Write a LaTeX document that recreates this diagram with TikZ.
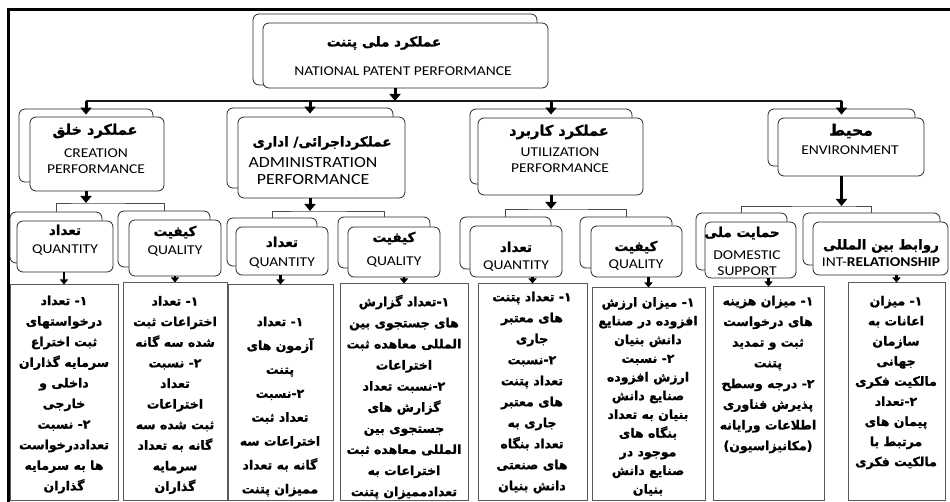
\documentclass[tikz,border=0pt]{standalone}
\usepackage{fontspec}
\setmainfont{Carlito}[FakeStretch=1.15]
\newfontfamily\fa[Script=Arabic, FakeBold=1.2]{DejaVu Sans}
\TeXXeTstate=1
\usetikzlibrary{arrows.meta,fit}
\newcommand\R[1]{\beginR #1\endR}
\newcommand\mydash{\kern0pt-\kern0pt}
\begin{document}
\begin{tikzpicture}[x=1pt,y=-1pt,
  bk/.style={draw=black!85, line width=0.8pt, rounded corners=6pt, fill=white, inner sep=0pt},
  leaf/.style={draw=black!65, line width=1pt, inner sep=0pt},
  faT/.style={font=\fa\bfseries\fontsize{13.5}{15}\selectfont, inner sep=0pt},
  enT/.style={font=\fontsize{13.5}{16}\selectfont, inner sep=0pt, align=center},
  body/.style={align=center, inner sep=0pt},
  trunk/.style={line width=1.4pt, draw=black!90},
  brk/.style={line width=0.8pt, draw=black!70},
  bigarr/.style={line width=3pt, -{Triangle[width=11pt,length=7pt]}},
  smarr/.style={line width=2.4pt, -{Triangle[width=8pt,length=5pt]}}]
\useasboundingbox (0,0) rectangle (950,502);
% frame
\draw[line width=3pt] (950,10) -- (8,10) -- (8,503);
% top
\node[bk, fit={(253,14)(537,85)}] (topB) {};
\node[bk, fit={(263,23)(548,88)}] (topF) {};
\node[faT] (topP) at (384,43) {\R{عملکرد ملی پتنت}};
\node[enT] (topE) at (403,71) {NATIONAL PATENT PERFORMANCE};
% level 2
\node[bk, fit={(19,109)(153,182)}] (creB) {};
\node[bk, fit={(30,117)(164,191)}] (creF) {};
\node[faT, font=\fa\bfseries\fontsize{14.5}{16}\selectfont] (creP) at (95,131) {\R{عملکرد خلق}};
\node[enT] (creE) at (96,161) {CREATION\\PERFORMANCE};
\node[bk, fit={(227,108)(393,188)}] (admB) {};
\node[bk, fit={(238,117)(405,198)}] (admF) {};
\node[faT] (admP) at (322,143) {\R{عملکرداجرائی/ اداری}};
\node[enT, font=\fontsize{15.5}{17}\selectfont] (admE) at (313,171.5) {ADMINISTRATION\\PERFORMANCE};
\node[bk, fit={(470,109)(632,184)}] (utiB) {};
\node[bk, fit={(478,118)(643,195)}] (utiF) {};
\node[faT, font=\fa\bfseries\fontsize{14.5}{16}\selectfont] (utiP) at (559,132) {\R{عملکرد کاربرد}};
\node[enT] (utiE) at (560,160) {UTILIZATION\\PERFORMANCE};
\node[bk, fit={(768,109)(915,166)}] (envB) {};
\node[bk, fit={(778,118)(924,176)}] (envF) {};
\node[faT, font=\fa\bfseries\fontsize{15.5}{17}\selectfont] (envP) at (851,131) {\R{محیط}};
\node[enT] (envE) at (850,150) {ENVIRONMENT};
% level 3
\node[bk, fit={(10,212)(102,263)}] (cqnB) {};
\node[bk, fit={(17,221)(113,272)}] (cqnF) {};
\node[faT] (cqnP) at (65,230) {\R{تعداد}};
\node[enT] (cqnE) at (65,250) {QUANTITY};
\node[bk, fit={(118,211)(210,267)}] (cqlB) {};
\node[bk, fit={(129,220)(221,276)}] (cqlF) {};
\node[faT] (cqlP) at (175,232) {\R{کیفیت}};
\node[enT] (cqlE) at (175,251) {QUALITY};
\node[bk, fit={(227,218)(317,266)}] (aqnB) {};
\node[bk, fit={(236,227)(328,275)}] (aqnF) {};
\node[faT] (aqnP) at (282,242) {\R{تعداد}};
\node[enT] (aqnE) at (282,263) {QUANTITY};
\node[bk, fit={(338,217)(430,268)}] (aqlB) {};
\node[bk, fit={(348,227)(440,277)}] (aqlF) {};
\node[faT] (aqlP) at (394,238) {\R{کیفیت}};
\node[enT] (aqlE) at (394,262) {QUALITY};
\node[bk, fit={(460,217)(551,269)}] (uqnB) {};
\node[bk, fit={(470,226)(562,277)}] (uqnF) {};
\node[faT] (uqnP) at (516,247) {\R{تعداد}};
\node[enT] (uqnE) at (516,266) {QUANTITY};
\node[bk, fit={(580,217)(672,268)}] (uqlB) {};
\node[bk, fit={(591,226)(682,277)}] (uqlF) {};
\node[faT] (uqlP) at (636,247) {\R{کیفیت}};
\node[enT] (uqlE) at (636,265) {QUALITY};
\node[bk, fit={(696,213)(787,270)}] (domB) {};
\node[bk, fit={(705,222)(796,278)}] (domF) {};
\node[faT] (domP) at (742,233) {\R{حمایت ملی}};
\node[enT] (domE) at (747,263) {DOMESTIC\\SUPPORT};
\node[bk, fit={(803,213)(940,265)}] (intB) {};
\node[bk, fit={(813,222)(948,275)}] (intF) {};
\node[faT] (intP) at (881,246) {\R{روابط بین المللی}};
\node[enT] (intE) at (881,262) {INT-\textbf{RELATIONSHIP}};
% level 4
\node[leaf, fit={(10,285)(118,500)}] (b1) {};
\node[leaf, fit={(123,283)(227,500)}] (b2) {};
\node[leaf, fit={(228,285)(333,500)}] (b3) {};
\node[leaf, fit={(340,284)(468,500)}] (b4) {};
\node[leaf, fit={(478,284)(587,500)}] (b5) {};
\node[leaf, fit={(592,288)(705,500)}] (b6) {};
\node[leaf, fit={(713,287)(824,500)}] (b7) {};
\node[leaf, fit={(848,283)(945,500)}] (b8) {};
\node[body, font=\fa\bfseries\fontsize{12.5}{20.6}\selectfont] (t1) at (64,394.5) {\R{۱\mydash{} تعداد}\\\R{درخواستهای}\\\R{ثبت اختراع}\\\R{سرمایه گذاران}\\\R{داخلی و}\\\R{خارجی}\\\R{۲\mydash{} نسبت}\\\R{تعداددرخواست}\\\R{ها به سرمایه}\\\R{گذاران}};
\node[body, font=\fa\bfseries\fontsize{12.5}{20.6}\selectfont] (t2) at (175,395) {\R{۱\mydash{} تعداد}\\\R{اختراعات ثبت}\\\R{شده سه گانه}\\\R{۲\mydash{} نسبت}\\\R{تعداد}\\\R{اختراعات}\\\R{ثبت شده سه}\\\R{گانه به تعداد}\\\R{سرمایه}\\\R{گذاران}};
\node[body, font=\fa\bfseries\fontsize{12.5}{23.9}\selectfont] (t3) at (280,406.5) {\R{۱\mydash{} تعداد}\\\R{آزمون های}\\\R{پتنت}\\\R{۲\mydash نسبت}\\\R{تعداد ثبت}\\\R{اختراعات سه}\\\R{گانه به تعداد}\\\R{ممیزان پتنت}};
\node[body, font=\fa\bfseries\fontsize{12.5}{21.1}\selectfont] (t4) at (404,397) {\R{۱\mydash تعداد گزارش}\\\R{های جستجوی بین}\\\R{المللی معاهده ثبت}\\\R{اختراعات}\\\R{۲\mydash نسبت تعداد}\\\R{گزارش های}\\\R{جستجوی بین}\\\R{المللی معاهده ثبت}\\\R{اختراعات به}\\\R{تعدادممیزان پتنت}};
\node[body, font=\fa\bfseries\fontsize{12.5}{21}\selectfont] (t5) at (532,392.5) {\R{۱\mydash{} تعداد پتنت}\\\R{های معتبر}\\\R{جاری}\\\R{۲\mydash نسبت}\\\R{تعداد پتنت}\\\R{های معتبر}\\\R{جاری به}\\\R{تعداد بنگاه}\\\R{های صنعتی}\\\R{دانش بنیان}};
\node[body, font=\fa\bfseries\fontsize{12.5}{18.7}\selectfont] (t6) at (648,396.5) {\R{۱\mydash{} میزان ارزش}\\\R{افزوده در صنایع}\\\R{دانش بنیان}\\\R{۲\mydash{} نسبت}\\\R{ارزش افزوده}\\\R{صنایع دانش}\\\R{بنیان به تعداد}\\\R{بنگاه های}\\\R{موجود در}\\\R{صنایع دانش}\\\R{بنیان}};
\node[body, font=\fa\bfseries\fontsize{12.5}{20.7}\selectfont] (t7) at (768,374.5) {\R{۱\mydash{} میزان هزینه}\\\R{های درخواست}\\\R{ثبت و تمدید}\\\R{پتنت}\\\R{۲\mydash{} درجه وسطح}\\\R{پذیرش فناوری}\\\R{اطلاعات ورایانه}\\\R{(مکانیزاسیون)}};
\node[body, font=\fa\bfseries\fontsize{12.5}{20.1}\selectfont] (t8) at (896,382.5) {\R{۱\mydash{} میزان}\\\R{اعانات به}\\\R{سازمان}\\\R{جهانی}\\\R{مالکیت فکری}\\\R{۲\mydash تعداد}\\\R{پیمان های}\\\R{مرتبط با}\\\R{مالکیت فکری}};
% connectors level 1 -> 2
\coordinate (tJ) at (395,101);
\draw[trunk] (creB.north |- tJ) -- (envB.north |- tJ);
\draw[bigarr] (topB.center |- topF.south) -- (topB.center |- tJ);
\foreach \n in {creB,admB,utiB,envB}
  \draw[bigarr] (\n.north |- tJ) -- ([yshift=-6pt]\n.north);
% level 2 -> 3
\coordinate (creJ) at (86,203);
\coordinate (admJ) at (310,211);
\coordinate (utiJ) at (551,209);
\coordinate (envJ) at (841,206);
\draw[brk] (cqnB.north) |- (creJ) -| (cqlB.north);
\draw[brk] (aqnB.north) |- (admJ) -| (aqlB.north);
\draw[brk] (uqnB.north) |- (utiJ) -| (uqlB.north);
\draw[brk] (domB.north) |- (envJ) -| (intB.north);
\draw[bigarr] (creB.center |- creF.south) -- (creB.center |- creJ);
\draw[bigarr] (admB.center |- admF.south) -- (admB.center |- admJ);
\draw[bigarr] (utiB.center |- utiF.south) -- (utiB.center |- utiJ);
\draw[bigarr] (envB.center |- envF.south) -- (envB.center |- envJ);
% level 3 -> 4
\draw[smarr] (b1.north |- cqnF.south) -- (b1.north);
\draw[smarr] (b2.north |- cqlF.south) -- (b2.north);
\draw[smarr] (b3.north |- aqnF.south) -- (b3.north);
\draw[smarr] (b4.north |- aqlF.south) -- (b4.north);
\draw[smarr] (b5.north |- uqnF.south) -- (b5.north);
\draw[smarr] (b6.north |- uqlF.south) -- (b6.north);
\draw[smarr] (b7.north |- domF.south) -- (b7.north);
\draw[smarr] (b8.north |- intF.south) -- (b8.north);
\end{tikzpicture}
\end{document}
